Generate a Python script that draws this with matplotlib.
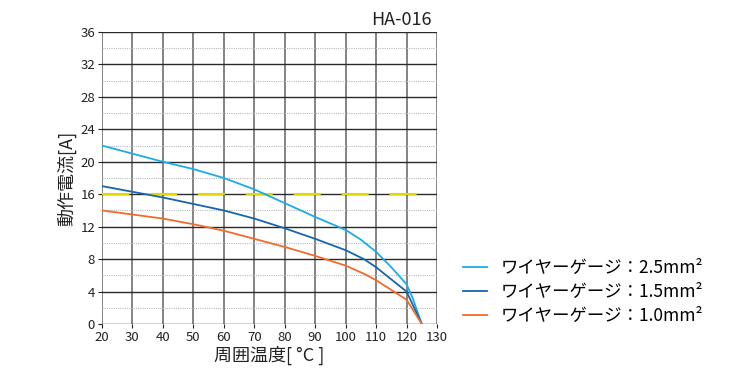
import numpy as np
import matplotlib.pyplot as plt

plt.rcParams['font.family'] = ['Noto Sans CJK JP', 'DejaVu Sans']

# derating curves per wire gauge
temp_25 = [20, 30, 40, 50, 60, 70, 80, 90, 100, 105, 110, 115, 120, 122, 125]
curr_25 = [22, 21, 20, 19.1, 18, 16.6, 14.9, 13.2, 11.6, 10.4, 8.9, 7.0, 4.9, 3.2, 0]
temp_15 = [20, 30, 40, 50, 60, 70, 80, 90, 100, 106, 110, 115, 120, 125]
curr_15 = [17, 16.3, 15.6, 14.8, 14, 13, 11.8, 10.5, 9.1, 8.0, 7.0, 5.5, 4.0, 0]
temp_10 = [20, 30, 40, 50, 60, 70, 80, 90, 100, 106, 110, 115, 120, 125]
curr_10 = [14, 13.5, 13, 12.3, 11.5, 10.5, 9.5, 8.4, 7.2, 6.2, 5.4, 4.2, 3.0, 0]
limit_current = 16

labels = ['ワイヤーゲージ：2.5mm²', 'ワイヤーゲージ：1.5mm²', 'ワイヤーゲージ：1.0mm²']
colors = ['#1aace6', '#1565b0', '#f26b2a']

x_ticks = list(range(20, 131, 10))
y_ticks = list(range(0, 37, 4))

fig = plt.figure(figsize=(7.51, 3.72), dpi=100)
ax = fig.add_axes([0.1358, 0.129, 0.4461, 0.785])

ax.set_xlim(20, 130)
ax.set_ylim(0, 36)

# grid: vertical gray, horizontal dark, dotted minor rows
for x in x_ticks:
    ax.axvline(x, color='#7a7a7a', lw=1.3, zorder=1)
for y in y_ticks:
    ax.axhline(y, color='#2a2a2a', lw=1.0, zorder=1)
for y in range(2, 36, 4):
    ax.axhline(y, color='#bbbbbb', lw=0.8, ls=(0, (1, 1)), zorder=1)

ax.plot([20, 130], [limit_current, limit_current], color='#e6d600', lw=1.5,
        ls=(0, (13, 10)), zorder=2)

ax.plot(temp_25, curr_25, color=colors[0], lw=1.3, label=labels[0], zorder=3)
ax.plot(temp_15, curr_15, color=colors[1], lw=1.3, label=labels[1], zorder=3)
ax.plot(temp_10, curr_10, color=colors[2], lw=1.3, label=labels[2], zorder=3)

for s in ax.spines.values():
    s.set_visible(False)

ax.set_xticks(x_ticks)
ax.set_yticks(y_ticks)
ax.tick_params(labelsize=9.5, colors='#222222', length=3, width=0.8, pad=2)

ax.set_xlabel('周囲温度[ °C ]', fontsize=13, labelpad=1, color='#222222')
ax.set_ylabel('動作電流[A]', fontsize=13, labelpad=3, color='#222222')
ax.text(0.985, 1.01, 'HA-016', transform=ax.transAxes, ha='right', va='bottom',
        fontsize=13, color='#222222')

ax.legend(loc='center left', bbox_to_anchor=(1.03, 0.11), frameon=False,
          fontsize=12.5, handlelength=1.4, handletextpad=0.8, labelspacing=0.35)

fig.savefig('out.png', dpi=100)
